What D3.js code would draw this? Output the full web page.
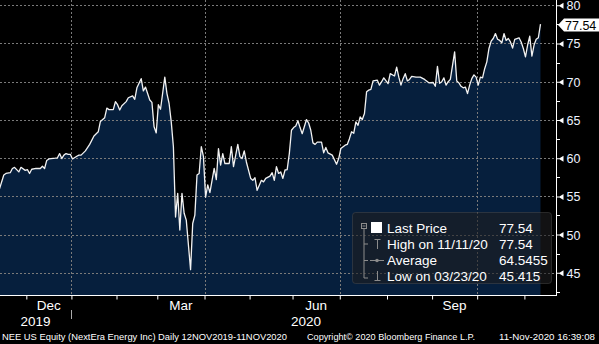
<!DOCTYPE html>
<html><head><meta charset="utf-8">
<script src="https://cdn.jsdelivr.net/npm/d3@7"></script>
<style>html,body{margin:0;padding:0;background:#000;overflow:hidden}svg{display:block}</style>
</head><body>
<svg id="chart" width="599" height="344"></svg>
<script>
// ---------- data ----------
const dates = [
"2019-11-12","2019-11-14","2019-11-15","2019-11-19","2019-11-20","2019-11-21","2019-11-25","2019-11-26","2019-11-29",
"2019-12-02","2019-12-03","2019-12-04","2019-12-06","2019-12-10","2019-12-11","2019-12-12","2019-12-13","2019-12-16",
"2019-12-19","2019-12-20","2019-12-23","2019-12-24","2019-12-26","2019-12-27","2019-12-30","2019-12-31",
"2020-01-02","2020-01-06","2020-01-07","2020-01-08","2020-01-10","2020-01-14","2020-01-16","2020-01-21","2020-01-22",
"2020-01-24","2020-01-27","2020-01-28","2020-01-29","2020-01-30","2020-01-31",
"2020-02-03","2020-02-04","2020-02-05","2020-02-07","2020-02-10","2020-02-12","2020-02-13","2020-02-14","2020-02-19",
"2020-02-20","2020-02-21","2020-02-24","2020-02-25","2020-02-26","2020-02-27","2020-02-28",
"2020-03-02","2020-03-03","2020-03-05","2020-03-06","2020-03-09","2020-03-10","2020-03-11","2020-03-12","2020-03-13",
"2020-03-16","2020-03-17","2020-03-18","2020-03-19","2020-03-23","2020-03-24","2020-03-25","2020-03-26","2020-03-27",
"2020-03-30","2020-03-31",
"2020-04-01","2020-04-02","2020-04-03","2020-04-07","2020-04-08","2020-04-09","2020-04-13","2020-04-14","2020-04-15",
"2020-04-17","2020-04-20","2020-04-21","2020-04-23","2020-04-24","2020-04-27","2020-04-28","2020-04-29",
"2020-05-01","2020-05-04","2020-05-05","2020-05-06","2020-05-08","2020-05-11","2020-05-12","2020-05-14","2020-05-15",
"2020-05-18","2020-05-19","2020-05-20","2020-05-21","2020-05-22","2020-05-26","2020-05-27","2020-05-28","2020-05-29",
"2020-06-01","2020-06-02","2020-06-03","2020-06-04","2020-06-05","2020-06-09","2020-06-10","2020-06-11","2020-06-12",
"2020-06-15","2020-06-16","2020-06-18","2020-06-19","2020-06-22","2020-06-23","2020-06-25","2020-06-29","2020-06-30",
"2020-07-01","2020-07-06","2020-07-07","2020-07-08","2020-07-09","2020-07-10","2020-07-13","2020-07-14","2020-07-15",
"2020-07-16","2020-07-17","2020-07-20","2020-07-21","2020-07-22","2020-07-23","2020-07-27","2020-07-28","2020-07-29",
"2020-07-30",
"2020-08-03","2020-08-04","2020-08-06","2020-08-07","2020-08-10","2020-08-11","2020-08-12","2020-08-13","2020-08-14",
"2020-08-17","2020-08-18","2020-08-20","2020-08-24","2020-08-26","2020-08-28",
"2020-09-01","2020-09-02","2020-09-03","2020-09-04","2020-09-08","2020-09-09","2020-09-10","2020-09-11","2020-09-14",
"2020-09-16","2020-09-17","2020-09-18","2020-09-21","2020-09-22","2020-09-23","2020-09-24","2020-09-25","2020-09-28",
"2020-09-29","2020-09-30",
"2020-10-01","2020-10-02","2020-10-05","2020-10-06","2020-10-07","2020-10-08","2020-10-09","2020-10-12","2020-10-13",
"2020-10-14","2020-10-15","2020-10-16","2020-10-19","2020-10-20","2020-10-21","2020-10-22","2020-10-23","2020-10-26",
"2020-10-27","2020-10-28","2020-10-29","2020-10-30",
"2020-11-02","2020-11-03","2020-11-04","2020-11-05","2020-11-06","2020-11-09","2020-11-10","2020-11-11"
];
const prices = [
56.0,57.8,58.0,58.1,58.65,58.8,58.2,58.8,58.4,
58.5,58.0,58.55,58.65,58.65,58.95,58.65,59.7,59.9,
60.0,60.05,60.6,59.95,60.4,60.6,60.5,60.5,
59.9,60.25,60.4,60.4,60.95,61.8,62.9,63.45,64.8,
65.3,66.55,66.35,66.35,66.35,67.4,
67.0,66.3,66.85,67.4,67.9,68.15,67.7,69.2,70.4,
68.8,69.3,68.45,67.6,67.3,64.1,63.3,
67.0,66.4,70.6,68.45,67.15,64.75,61.5,52.3,55.4,
50.6,55.4,52.8,51.9,45.415,51.45,52.55,57.8,58.0,
61.5,60.2,
54.9,56.5,55.5,58.65,57.2,61.25,59.1,60.6,59.3,
59.3,61.5,58.9,61.8,60.2,59.95,60.95,59.5,
57.35,57.1,57.45,55.8,57.1,56.9,57.35,57.65,58.1,
57.1,58.9,58.0,58.2,57.35,58.45,58.5,60.6,63.65,
64.0,64.2,64.9,64.0,63.2,65.05,64.6,63.65,62.0,
61.8,62.1,62.1,60.7,61.4,60.7,60.4,59.2,59.95,
61.25,61.7,61.8,62.55,63.45,63.25,64.75,64.3,65.4,
65.05,65.85,68.7,68.9,69.0,70.1,70.2,69.55,70.0,
70.5,
69.75,71.05,70.75,71.9,70.6,69.55,70.4,71.05,70.1,
70.3,70.7,70.6,70.6,70.3,69.85,
69.9,69.4,72.0,69.8,70.0,70.5,69.55,70.0,70.3,
73.9,70.1,69.85,69.4,69.2,69.3,68.45,69.55,70.4,
70.9,70.6,
69.55,70.6,70.5,71.7,72.6,74.35,75.3,75.65,76.3,
75.55,75.4,75.1,76.3,75.4,75.65,75.2,74.4,75.55,
75.65,75.75,75.2,74.35,
73.25,74.8,75.95,73.35,74.8,75.55,75.75,77.54
];
const holidays = ["2019-11-28","2019-12-25","2020-01-01","2020-01-20","2020-02-17","2020-04-10","2020-05-25","2020-07-03","2020-09-07"];
const yTicks = [45,50,55,60,65,70,75,80];
const yMinorTicks = [42.5,47.5,52.5,57.5,62.5,67.5,72.5,77.5];
const quarterMonths = [11,2,5,8];           // Dec, Mar, Jun, Sep (0-based)
const quarterLabels = ["Dec","Mar","Jun","Sep"];
const gridMonths = [0,3,6,9];               // Jan, Apr, Jul, Oct
const yearLabels = ["2019","2020"];
const legendLabels = ["Last Price","High on 11/11/20","Average","Low on 03/23/20"];
const legendValues = ["77.54","77.54","64.5455","45.415"];
const lastPrice = 77.54;
const footerLeft = "NEE US Equity (NextEra Energy Inc)  Daily 12NOV2019-11NOV2020";
const footerMid = "Copyright\u00A9 2020 Bloomberg Finance L.P.";
const footerRight = "11-Nov-2020 16:39:08";

// ---------- setup ----------
const svg = d3.select("#chart");
const FONT = "'Liberation Sans', Arial, sans-serif";
const plotBottom = 295, axisX = 556;
const parse = d3.utcParse("%Y-%m-%d"), fmt = d3.utcFormat("%Y-%m-%d");
const tradingDays = d3.utcDay.range(parse("2019-11-12"), parse("2020-11-12"))
  .filter(d => d.getUTCDay() % 6 !== 0 && !holidays.includes(fmt(d)));
const idxOf = new Map(tradingDays.map((d, i) => [fmt(d), i]));
const data = dates.map((d, i) => ({ i: idxOf.get(d), v: prices[i] }));

const x = d3.scaleLinear().domain([0, tradingDays.length - 1]).range([-0.5, 540.5]);
const y = d3.scaleLinear().domain([42.1, 80.69]).range([plotBottom, 0]);

svg.append("rect").attr("width", 599).attr("height", 344).attr("fill", "#000");

// month starts
const monthStarts = [];
tradingDays.forEach((d, i) => {
  if (i > 0 && d.getUTCMonth() !== tradingDays[i - 1].getUTCMonth())
    monthStarts.push({ i, m: d.getUTCMonth(), yr: d.getUTCFullYear() });
});
const tickX = i => x(i - 0.5);

// area
svg.append("path")
  .attr("d", d3.area().x(d => x(d.i)).y0(plotBottom).y1(d => y(d.v))(data))
  .attr("fill", "#061f3d");

// grid
const grid = svg.append("g").attr("stroke", "#7a7a7a").attr("stroke-width", 1).attr("stroke-dasharray", "2,2");
yTicks.forEach(t => {
  const yy = Math.round(y(t)) + 0.5;
  grid.append("line").attr("x1", 0).attr("x2", axisX).attr("y1", yy).attr("y2", yy);
});
monthStarts.filter(s => gridMonths.includes(s.m)).forEach(s => {
  const xx = Math.round(tickX(s.i)) + 0.5;
  grid.append("line").attr("x1", xx).attr("x2", xx).attr("y1", 0).attr("y2", plotBottom);
});

// line
svg.append("path")
  .attr("d", d3.line().x(d => x(d.i)).y(d => y(d.v))(data))
  .attr("fill", "none").attr("stroke", "#f2f2f2").attr("stroke-width", 1.3).attr("stroke-linejoin", "round");

// legend
const lg = svg.append("g");
lg.append("rect").attr("x", 352.5).attr("y", 212.5).attr("width", 199).attr("height", 71).attr("rx", 3)
  .attr("fill", "rgba(30,30,32,0.6)").attr("stroke", "rgba(80,80,80,0.45)");
const rowsY = [228, 244, 260.5, 276];
const gcol = "#8c8c8c";
lg.append("rect").attr("x", 361.5).attr("y", 223.5).attr("width", 5).attr("height", 5).attr("fill", "none").attr("stroke", gcol);
lg.append("line").attr("x1", 362.5).attr("x2", 365.5).attr("y1", 226).attr("y2", 226).attr("stroke", gcol);
lg.append("line").attr("x1", 364).attr("x2", 364).attr("y1", 229).attr("y2", rowsY[3] + 2).attr("stroke", gcol);
[1, 2, 3].forEach(k => lg.append("line").attr("x1", 364).attr("x2", 368).attr("y1", rowsY[k] + (k === 3 ? 2 : 0)).attr("y2", rowsY[k] + (k === 3 ? 2 : 0)).attr("stroke", gcol));
lg.append("rect").attr("x", 371).attr("y", 222).attr("width", 11).attr("height", 11).attr("fill", "#fff");
// high icon
lg.append("line").attr("x1", 377.5).attr("x2", 377.5).attr("y1", rowsY[1] - 5).attr("y2", rowsY[1] + 5).attr("stroke", gcol);
lg.append("line").attr("x1", 374.5).attr("x2", 380.5).attr("y1", rowsY[1] - 4.5).attr("y2", rowsY[1] - 4.5).attr("stroke", gcol);
// average icon
lg.append("line").attr("x1", 370).attr("x2", 384).attr("y1", rowsY[2]).attr("y2", rowsY[2]).attr("stroke", gcol);
lg.append("circle").attr("cx", 377).attr("cy", rowsY[2]).attr("r", 1.8).attr("fill", gcol);
// low icon
lg.append("line").attr("x1", 377.5).attr("x2", 377.5).attr("y1", rowsY[3] - 5).attr("y2", rowsY[3] + 5).attr("stroke", gcol);
lg.append("line").attr("x1", 374.5).attr("x2", 380.5).attr("y1", rowsY[3] + 4.5).attr("y2", rowsY[3] + 4.5).attr("stroke", gcol);
legendLabels.forEach((t, k) => {
  lg.append("text").attr("x", 387).attr("y", rowsY[k] + 4.7).text(t)
    .attr("fill", "#fff").attr("font-family", FONT).attr("font-size", 13.5);
  lg.append("text").attr("x", 499).attr("y", rowsY[k] + 4.7).text(legendValues[k])
    .attr("fill", "#fff").attr("font-family", FONT).attr("font-size", 13.5);
});

// y axis (right)
const yAxis = d3.axisRight(y).tickValues(yTicks).tickSize(0).tickPadding(10).tickFormat(d3.format("d"));
const ya = svg.append("g").attr("transform", `translate(${axisX + 0.5},0)`).call(yAxis);
ya.select(".domain").remove();
ya.selectAll("text").attr("fill", "#eef3ff").attr("font-family", FONT).attr("font-size", 12.5).attr("dy", "0.36em");
ya.selectAll(".tick").append("path").attr("d", "M0,-0.5H3L7,-3V3L3,0.5H0Z").attr("fill", "#fff");
yMinorTicks.forEach(t => {
  svg.append("line").attr("x1", axisX).attr("x2", axisX + 4).attr("y1", Math.round(y(t)) + 0.5).attr("y2", Math.round(y(t)) + 0.5)
    .attr("stroke", "#fff");
});
svg.append("line").attr("x1", axisX + 0.5).attr("x2", axisX + 0.5).attr("y1", 0).attr("y2", plotBottom + 1).attr("stroke", "#fff");

// x axis
const xAxis = d3.axisBottom(x).tickValues(monthStarts.map(s => s.i - 0.5)).tickSize(4).tickFormat("");
const xa = svg.append("g").attr("transform", `translate(0,${plotBottom + 0.5})`).call(xAxis);
xa.select(".domain").remove();
xa.selectAll("line").attr("stroke", "#fff");
svg.append("line").attr("x1", 0).attr("x2", axisX + 1).attr("y1", plotBottom + 0.5).attr("y2", plotBottom + 0.5).attr("stroke", "#fff");

quarterMonths.forEach((m, k) => {
  const s = monthStarts.findIndex(o => o.m === m);
  const x0 = tickX(monthStarts[s].i), x1 = tickX(monthStarts[s + 1].i);
  svg.append("text").attr("x", (x0 + x1) / 2).attr("y", 309.5).attr("text-anchor", "middle")
    .attr("fill", "#fff").attr("font-family", FONT).attr("font-size", 13.5).text(quarterLabels[k]);
});
const janTick = tickX(monthStarts.find(s => s.m === 0).i);
svg.append("line").attr("x1", Math.round(janTick) + 0.5).attr("x2", Math.round(janTick) + 0.5)
  .attr("y1", 310).attr("y2", 319).attr("stroke", "#aaa");
[[x(0), janTick], [janTick, x(tradingDays.length - 1)]].forEach(([a, b], k) => {
  svg.append("text").attr("x", (a + b) / 2).attr("y", 326).attr("text-anchor", "middle")
    .attr("fill", "#fff").attr("font-family", FONT).attr("font-size", 13.5).text(yearLabels[k]);
});

// last price tag
const yl = y(lastPrice) + 1;
svg.append("path").attr("d", `M558,${yl} L564,${yl - 6.5} H599 V${yl + 6.5} H564 Z`).attr("fill", "#fff");
svg.append("text").attr("x", 565).attr("y", yl).attr("dy", "0.36em").attr("fill", "#000")
  .attr("font-family", FONT).attr("font-size", 12.5).text(d3.format(".2f")(lastPrice));

// footer
const foot = [[footerLeft, 2, 285], [footerMid, 307, 168], [footerRight, 499, 96]];
foot.forEach(([t, fx, w]) => {
  svg.append("text").attr("x", fx).attr("y", 340).attr("fill", "#fff").attr("font-family", FONT)
    .attr("font-size", 9.5).attr("textLength", w).attr("lengthAdjust", "spacingAndGlyphs").text(t);
});
</script>
</body></html>
